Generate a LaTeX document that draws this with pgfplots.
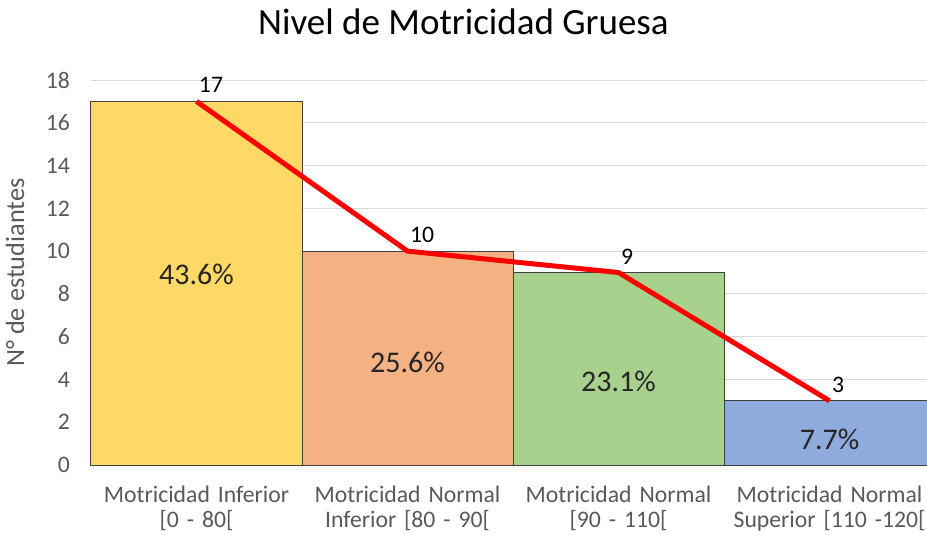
\documentclass[border=0pt]{standalone}
\usepackage{pgfplots}
\pgfplotsset{compat=1.18}
\usepackage{fontspec}
\setmainfont{Carlito}
\definecolor{cyel}{HTML}{FFD966}
\definecolor{csal}{HTML}{F4B183}
\definecolor{cgrn}{HTML}{A9D18E}
\definecolor{cblu}{HTML}{8FAADC}
\definecolor{tgray}{HTML}{595959}
\definecolor{ggray}{HTML}{D9D9D9}
\definecolor{edge}{HTML}{404040}
\begin{document}
\begin{tikzpicture}
\begin{axis}[
  name=ax,
  scale only axis,
  width=844pt, height=385pt,
  xmin=0, xmax=4, ymin=0, ymax=18,
  enlargelimits=false,
  ytick={0,2,...,18},
  xtick={0.5,1.5,2.5,3.5},
  xticklabels={{Motricidad Inferior\\\relax[0 - 80[},{Motricidad Normal\\Inferior [80 - 90[},{Motricidad Normal\\\relax[90 - 110[},{Motricidad Normal\\Superior [110 -120[}},
  xticklabel style={text width=210pt, align=center, anchor=north, inner sep=0pt, yshift=-21pt, font=\fontsize{23.7}{25}\selectfont, text=tgray},
  yticklabel style={anchor=east, inner sep=0pt, xshift=-21pt, font=\fontsize{23.7}{28}\selectfont, text=tgray},
  /pgf/number format/assume math mode=true,
  ymajorgrids,
  grid style={ggray, line width=1pt},
  axis line style={draw=none},
  major tick style={draw=none},
  ylabel={N° de estudiantes},
  ylabel style={at={(axis description cs:-0.090,0.5)}, anchor=center, font=\fontsize{26.3}{30}\selectfont, text=tgray},
  title={Nivel de Motricidad Gruesa},
  title style={at={(axis description cs:0.4413,1)}, anchor=center, yshift=52pt, font=\fontsize{37}{44}\selectfont, text=black},
  clip=false,
]
\addplot[ybar, bar width=1, bar shift=0, fill=cyel, draw=edge, line width=1pt] coordinates {(0.5,17)};
\addplot[ybar, bar width=1, bar shift=0, fill=csal, draw=edge, line width=1pt] coordinates {(1.5,10)};
\addplot[ybar, bar width=1, bar shift=0, fill=cgrn, draw=edge, line width=1pt] coordinates {(2.5,9)};
\addplot[ybar, bar width=1, bar shift=0, fill=cblu, draw=edge, line width=1pt] coordinates {(3.5,3)};
\addplot[red, line width=5pt, line join=round, mark=none,
  nodes near coords,
  every node near coord/.append style={anchor=south west, inner sep=0pt, yshift=6pt, xshift=0pt, font=\fontsize{23.7}{28}\selectfont, text=black},
  point meta=explicit symbolic]
  coordinates {(0.5,17)[17] (1.5,10)[10] (2.5,9)[9] (3.5,3)[3]};
\node[font=\fontsize{30}{36}\selectfont, text=black!85] at (axis cs:0.5,8.9) {43.6\%};
\node[font=\fontsize{30}{36}\selectfont, text=black!85] at (axis cs:1.5,4.8) {25.6\%};
\node[font=\fontsize{30}{36}\selectfont, text=black!85] at (axis cs:2.5,3.9) {23.1\%};
\node[font=\fontsize{30}{36}\selectfont, text=black!85] at (axis cs:3.5,1.2) {7.7\%};
\end{axis}
\pgfresetboundingbox
\path ([xshift=-91pt,yshift=-74pt]ax.south west) rectangle ([xshift=-8pt,yshift=80pt]ax.north east);
\end{tikzpicture}
\end{document}
